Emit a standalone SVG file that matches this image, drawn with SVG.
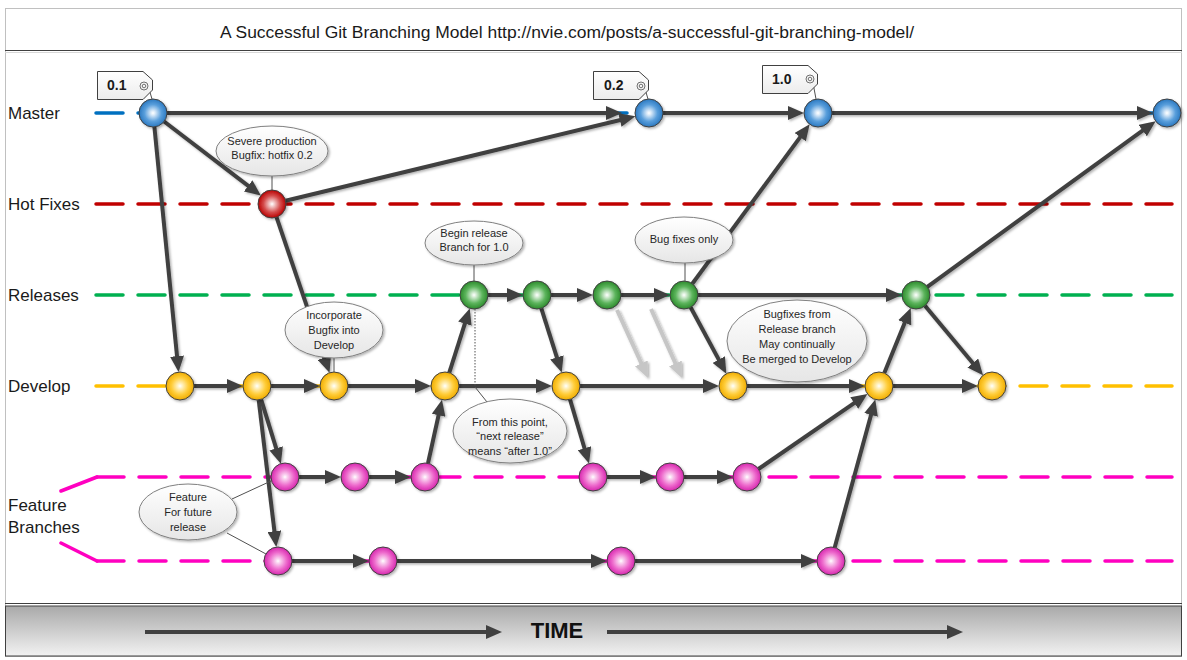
<svg xmlns="http://www.w3.org/2000/svg" width="1187" height="660" viewBox="0 0 1187 660">
<style>
.lbl{font-family:"Liberation Sans",Arial,sans-serif;font-size:17px;fill:#1a1a1a}
.ct{font-family:"Liberation Sans",Arial,sans-serif;font-size:11px;fill:#262626;text-anchor:middle}
.tag{font-family:"Liberation Sans",Arial,sans-serif;font-size:14px;font-weight:bold;fill:#1a1a1a}
.lane{fill:none;stroke-width:3.5;stroke-dasharray:27 15;stroke-linecap:round}
.c{fill:none;stroke:#404040;stroke-width:4;marker-end:url(#arr)}
.g{fill:none;stroke:#c6c6c6;stroke-width:4;marker-end:url(#arrg)}
.bub{fill:url(#bubg);stroke:#808080;stroke-width:1}
.thin{stroke:#505050;stroke-width:1;fill:none}
.nd{stroke:#404040;stroke-width:1}
.tg{fill:url(#tagg);stroke:#404040;stroke-width:1}
.ic{fill:none;stroke:#707070;stroke-width:1}
</style>
<defs>
<marker id="arr" markerUnits="userSpaceOnUse" markerWidth="16" markerHeight="14" refX="10" refY="7" orient="auto"><path d="M0,0 L16,7 L0,14 Z" fill="#404040"/></marker>
<marker id="arrg" markerUnits="userSpaceOnUse" markerWidth="16" markerHeight="14" refX="10" refY="7" orient="auto"><path d="M0,0 L16,7 L0,14 Z" fill="#c6c6c6"/></marker>
<radialGradient id="gb" cx="50%" cy="50%" r="50%"><stop offset="0" stop-color="#ffffff"/><stop offset="0.15" stop-color="#dcebf9"/><stop offset="0.6" stop-color="#5a9fdc"/><stop offset="1" stop-color="#2a78c0"/></radialGradient>
<radialGradient id="gr" cx="50%" cy="50%" r="50%"><stop offset="0" stop-color="#ffffff"/><stop offset="0.15" stop-color="#f5d2d2"/><stop offset="0.6" stop-color="#d44c4c"/><stop offset="1" stop-color="#b80000"/></radialGradient>
<radialGradient id="gg" cx="50%" cy="50%" r="50%"><stop offset="0" stop-color="#ffffff"/><stop offset="0.15" stop-color="#d8eed8"/><stop offset="0.6" stop-color="#5cb45c"/><stop offset="1" stop-color="#2c8a2c"/></radialGradient>
<radialGradient id="gy" cx="50%" cy="50%" r="50%"><stop offset="0" stop-color="#ffffff"/><stop offset="0.15" stop-color="#fff3c8"/><stop offset="0.6" stop-color="#ffcd3a"/><stop offset="1" stop-color="#f0ac00"/></radialGradient>
<radialGradient id="gm" cx="50%" cy="50%" r="50%"><stop offset="0" stop-color="#ffffff"/><stop offset="0.15" stop-color="#fad6f1"/><stop offset="0.6" stop-color="#ee6ccd"/><stop offset="1" stop-color="#d626ae"/></radialGradient>
<linearGradient id="bubg" x1="0" y1="0" x2="0" y2="1"><stop offset="0" stop-color="#ffffff"/><stop offset="1" stop-color="#e6e6e6"/></linearGradient>
<linearGradient id="tagg" x1="0" y1="0" x2="0" y2="1"><stop offset="0" stop-color="#ffffff"/><stop offset="1" stop-color="#ececec"/></linearGradient>
<linearGradient id="timeg" x1="0" y1="0" x2="0" y2="1"><stop offset="0" stop-color="#a9a9a9"/><stop offset="1" stop-color="#f2f2f2"/></linearGradient>
<filter id="sh" x="-30%" y="-30%" width="160%" height="160%"><feDropShadow dx="1.5" dy="1.5" stdDeviation="1" flood-color="#000" flood-opacity="0.3"/></filter>
</defs>

<rect x="0" y="0" width="1187" height="660" fill="#ffffff"/>
<g id="frame">
<rect x="5.5" y="8.5" width="1176" height="648" fill="none" stroke="#c0c0c0" stroke-width="1"/>
<line x1="5" y1="50.5" x2="1182" y2="50.5" stroke="#404040" stroke-width="1"/>
<line x1="5" y1="52.5" x2="1182" y2="52.5" stroke="#d8d8d8" stroke-width="1"/>
<text x="567" y="38" font-family="Liberation Sans, Arial, sans-serif" font-size="16" fill="#1a1a1a" text-anchor="middle" textLength="694" lengthAdjust="spacingAndGlyphs">A Successful Git Branching Model http://nvie.com/posts/a-successful-git-branching-model/</text>
</g>

<g id="lane-labels">
<text class="lbl" x="8" y="119">Master</text>
<text class="lbl" x="8" y="210">Hot Fixes</text>
<text class="lbl" x="8" y="301">Releases</text>
<text class="lbl" x="8" y="392">Develop</text>
<text class="lbl" x="8" y="511">Feature</text>
<text class="lbl" x="8" y="533">Branches</text>
</g>

<g id="lanes">
<line class="lane" x1="96" y1="113" x2="1172" y2="113" stroke="#0070c0"/>
<line class="lane" x1="96" y1="204" x2="1172" y2="204" stroke="#c00000"/>
<line class="lane" x1="96" y1="295" x2="1172" y2="295" stroke="#00b050"/>
<line class="lane" x1="96" y1="386" x2="1172" y2="386" stroke="#ffc000"/>
<line class="lane" x1="97" y1="477" x2="1172" y2="477" stroke="#ff00c0"/>
<line class="lane" x1="97" y1="561" x2="1172" y2="561" stroke="#ff00c0"/>
<path d="M61,491 L97,477 M61,543 L97,561" fill="none" stroke="#ff00c0" stroke-width="3.5" stroke-linecap="round"/>
</g>

<g id="connectors" filter="url(#sh)">
<line class="c" x1="167" y1="113" x2="616" y2="113"/>
<line class="c" x1="663" y1="113" x2="798" y2="113"/>
<line class="c" x1="832" y1="113" x2="1147" y2="113"/>
<line class="c" x1="164.1" y1="121.5" x2="256.1" y2="191.9"/>
<line class="c" x1="285.6" y1="200.7" x2="629.6" y2="117.7"/>
<line class="c" x1="154.4" y1="126.9" x2="178" y2="366.1"/>
<line class="c" x1="276.5" y1="217.2" x2="327.6" y2="367.1"/>
<line class="c" x1="194" y1="386" x2="237" y2="386"/>
<line class="c" x1="271" y1="386" x2="314" y2="386"/>
<line class="c" x1="348" y1="386" x2="425" y2="386"/>
<line class="c" x1="459" y1="386" x2="546" y2="386"/>
<line class="c" x1="580" y1="386" x2="713" y2="386"/>
<line class="c" x1="747" y1="386" x2="859" y2="386"/>
<line class="c" x1="893" y1="386" x2="972" y2="386"/>
<line class="c" x1="261.1" y1="399.4" x2="279.1" y2="457.9"/>
<line class="c" x1="258.7" y1="399.9" x2="275.6" y2="541.1"/>
<line class="c" x1="299" y1="477" x2="335" y2="477"/>
<line class="c" x1="369" y1="477" x2="405" y2="477"/>
<line class="c" x1="428" y1="463.3" x2="440.7" y2="405.5"/>
<line class="c" x1="449.3" y1="372.7" x2="467.9" y2="314.1"/>
<line class="c" x1="488" y1="295" x2="517" y2="295"/>
<line class="c" x1="551" y1="295" x2="587" y2="295"/>
<line class="c" x1="621" y1="295" x2="664" y2="295"/>
<line class="c" x1="698" y1="295" x2="896" y2="295"/>
<line class="c" x1="541.3" y1="308.3" x2="559.9" y2="366.9"/>
<line class="c" x1="570" y1="399.4" x2="587.3" y2="457.8"/>
<line class="c" x1="607" y1="477" x2="650" y2="477"/>
<line class="c" x1="684" y1="477" x2="727" y2="477"/>
<line class="c" x1="692.3" y1="283.7" x2="806.1" y2="129.1"/>
<line class="c" x1="690.6" y1="307.3" x2="723.5" y2="368.4"/>
<line class="c" x1="758.5" y1="469" x2="862.5" y2="397.4"/>
<line class="c" x1="292" y1="561" x2="363" y2="561"/>
<line class="c" x1="397" y1="561" x2="601" y2="561"/>
<line class="c" x1="635" y1="561" x2="811" y2="561"/>
<line class="c" x1="834.7" y1="547.5" x2="873.7" y2="405.3"/>
<line class="c" x1="884.3" y1="373" x2="908.5" y2="313.5"/>
<line class="c" x1="927.3" y1="286.8" x2="1150.8" y2="124.7"/>
<line class="c" x1="925" y1="305.7" x2="979.2" y2="370.7"/>
<line class="g" x1="617" y1="310" x2="645.5" y2="372.5"/>
<line class="g" x1="651" y1="309" x2="679.5" y2="372.5"/>
</g>

<g id="nodes" filter="url(#sh)">
<g id="m1"><circle class="nd" cx="153" cy="113" r="14" fill="url(#gb)"/></g>
<g id="m2"><circle class="nd" cx="649" cy="113" r="14" fill="url(#gb)"/></g>
<g id="m3"><circle class="nd" cx="818" cy="113" r="14" fill="url(#gb)"/></g>
<g id="m4"><circle class="nd" cx="1167" cy="113" r="14" fill="url(#gb)"/></g>
<g id="h1"><circle class="nd" cx="272" cy="204" r="14" fill="url(#gr)"/></g>
<g id="r1"><circle class="nd" cx="474" cy="295" r="14" fill="url(#gg)"/></g>
<g id="r2"><circle class="nd" cx="537" cy="295" r="14" fill="url(#gg)"/></g>
<g id="r3"><circle class="nd" cx="607" cy="295" r="14" fill="url(#gg)"/></g>
<g id="r4"><circle class="nd" cx="684" cy="295" r="14" fill="url(#gg)"/></g>
<g id="r5"><circle class="nd" cx="916" cy="295" r="14" fill="url(#gg)"/></g>
<g id="d1"><circle class="nd" cx="180" cy="386" r="14" fill="url(#gy)"/></g>
<g id="d2"><circle class="nd" cx="257" cy="386" r="14" fill="url(#gy)"/></g>
<g id="d3"><circle class="nd" cx="334" cy="386" r="14" fill="url(#gy)"/></g>
<g id="d4"><circle class="nd" cx="445" cy="386" r="14" fill="url(#gy)"/></g>
<g id="d5"><circle class="nd" cx="566" cy="386" r="14" fill="url(#gy)"/></g>
<g id="d6"><circle class="nd" cx="733" cy="386" r="14" fill="url(#gy)"/></g>
<g id="d7"><circle class="nd" cx="879" cy="386" r="14" fill="url(#gy)"/></g>
<g id="d8"><circle class="nd" cx="992" cy="386" r="14" fill="url(#gy)"/></g>
<g id="f1"><circle class="nd" cx="285" cy="477" r="14" fill="url(#gm)"/></g>
<g id="f2"><circle class="nd" cx="355" cy="477" r="14" fill="url(#gm)"/></g>
<g id="f3"><circle class="nd" cx="425" cy="477" r="14" fill="url(#gm)"/></g>
<g id="f4"><circle class="nd" cx="593" cy="477" r="14" fill="url(#gm)"/></g>
<g id="f5"><circle class="nd" cx="670" cy="477" r="14" fill="url(#gm)"/></g>
<g id="f6"><circle class="nd" cx="747" cy="477" r="14" fill="url(#gm)"/></g>
<g id="g1"><circle class="nd" cx="278" cy="561" r="14" fill="url(#gm)"/></g>
<g id="g2"><circle class="nd" cx="383" cy="561" r="14" fill="url(#gm)"/></g>
<g id="g3"><circle class="nd" cx="621" cy="561" r="14" fill="url(#gm)"/></g>
<g id="g4"><circle class="nd" cx="831" cy="561" r="14" fill="url(#gm)"/></g>
</g>

<g id="callout-lines">
<line class="thin" x1="272" y1="176" x2="272" y2="190"/>
<line class="thin" x1="334" y1="358" x2="334" y2="372"/>
<line class="thin" x1="474" y1="265" x2="474" y2="281"/>
<line class="thin" x1="685" y1="263" x2="685" y2="282"/>
<line class="thin" x1="475" y1="309" x2="475" y2="387" stroke-dasharray="1.5 1.5"/>
<line class="thin" x1="475" y1="387" x2="487" y2="402"/>
<line class="thin" x1="232" y1="499" x2="271" y2="481"/>
<line class="thin" x1="227" y1="533" x2="266" y2="554"/>
</g>

<g id="callout-severe" filter="url(#sh)"><ellipse class="bub" cx="272" cy="151" rx="56" ry="25"/></g>
<g id="callout-severe-text"><text class="ct" x="272" y="145">Severe production</text><text class="ct" x="272" y="159">Bugfix: hotfix 0.2</text></g>

<g id="callout-incorporate" filter="url(#sh)"><ellipse class="bub" cx="334" cy="330" rx="49" ry="28"/></g>
<g id="callout-incorporate-text"><text class="ct" x="334" y="319">Incorporate</text><text class="ct" x="334" y="334">Bugfix into</text><text class="ct" x="334" y="349">Develop</text></g>

<g id="callout-begin" filter="url(#sh)"><ellipse class="bub" cx="474" cy="243" rx="49" ry="22"/></g>
<g id="callout-begin-text"><text class="ct" x="474" y="237">Begin release</text><text class="ct" x="474" y="251">Branch for 1.0</text></g>

<g id="callout-bugfixes-only" filter="url(#sh)"><ellipse class="bub" cx="684" cy="240" rx="49" ry="23"/></g>
<g id="callout-bugfixes-only-text"><text class="ct" x="684" y="243">Bug fixes only</text></g>

<g id="callout-bugfixes-from" filter="url(#sh)"><ellipse class="bub" cx="797" cy="341" rx="70" ry="41"/></g>
<g id="callout-bugfixes-from-text"><text class="ct" x="797" y="318">Bugfixes from</text><text class="ct" x="797" y="333">Release branch</text><text class="ct" x="797" y="348">May continually</text><text class="ct" x="797" y="363">Be merged to Develop</text></g>

<g id="callout-next" filter="url(#sh)"><ellipse class="bub" cx="510" cy="431" rx="57" ry="32"/></g>
<g id="callout-next-text"><text class="ct" x="510" y="426">From this point,</text><text class="ct" x="510" y="440">“next release”</text><text class="ct" x="510" y="455">means “after 1.0”</text></g>

<g id="callout-feature" filter="url(#sh)"><ellipse class="bub" cx="188" cy="512" rx="49" ry="28"/></g>
<g id="callout-feature-text"><text class="ct" x="188" y="501">Feature</text><text class="ct" x="188" y="516">For future</text><text class="ct" x="188" y="531">release</text></g>

<g id="tag-01">
<line class="thin" x1="149" y1="89" x2="152" y2="99"/>
<path class="tg" d="M97.5,71.5 H143 L152.5,80 V90 L143,99.5 H97.5 Z"/>
<text class="tag" x="107" y="90">0.1</text>
<circle class="ic" cx="144" cy="86" r="4"/><circle class="ic" cx="144" cy="86" r="1.8"/>
</g>
<g id="tag-02">
<line class="thin" x1="645" y1="89" x2="648" y2="99"/>
<path class="tg" d="M593.5,71.5 H639 L648.5,80 V90 L639,99.5 H593.5 Z"/>
<text class="tag" x="604" y="90">0.2</text>
<circle class="ic" cx="641" cy="86" r="4"/><circle class="ic" cx="641" cy="86" r="1.8"/>
</g>
<g id="tag-10">
<line class="thin" x1="813" y1="83" x2="816" y2="99"/>
<path class="tg" d="M762.5,65.5 H808 L817.5,74 V84 L808,93.5 H762.5 Z"/>
<text class="tag" x="772" y="84">1.0</text>
<circle class="ic" cx="810" cy="79" r="4"/><circle class="ic" cx="810" cy="79" r="1.8"/>
</g>

<g id="timebar">
<rect x="5.5" y="606" width="1176" height="50" fill="url(#timeg)" stroke="#404040" stroke-width="1"/>
<line x1="5" y1="603.5" x2="1182" y2="603.5" stroke="#404040" stroke-width="1"/>
<line class="c" x1="145" y1="632" x2="496" y2="632"/>
<line class="c" x1="607" y1="632" x2="957" y2="632"/>
<text x="557" y="638" font-family="Liberation Sans, Arial, sans-serif" font-size="22" font-weight="bold" fill="#111" text-anchor="middle">TIME</text>
</g>
</svg>
